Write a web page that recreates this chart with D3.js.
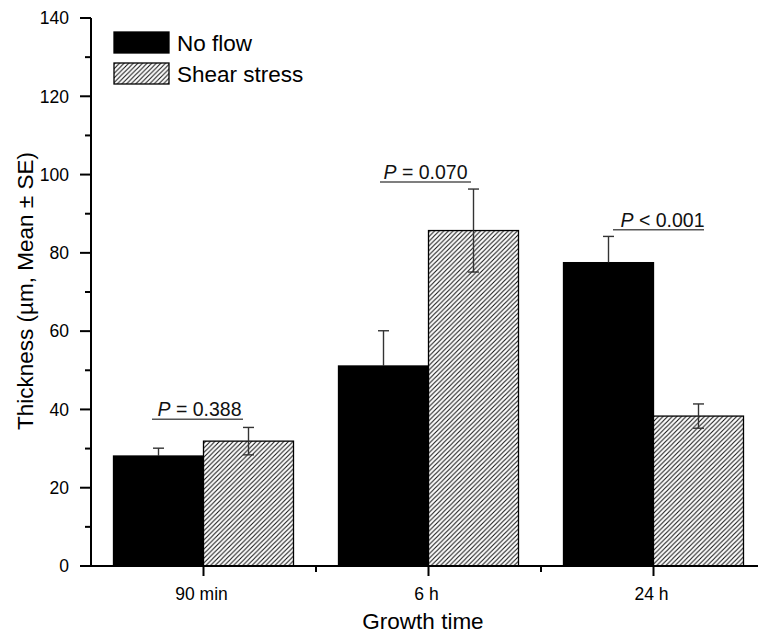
<!DOCTYPE html>
<html>
<head>
<meta charset="utf-8">
<script src="https://cdn.jsdelivr.net/npm/d3@7"></script>
<style>
  body { margin: 0; background: #fff; }
  svg { font-family: "Liberation Sans", Arial, sans-serif; display: block; }
</style>
</head>
<body>
<div id="my_dataviz"></div>
<script>
// data
var categories = ["90 min", "6 h", "24 h"];
var seriesNames = ["No flow", "Shear stress"];
var noFlowMean = [28.1, 51.1, 77.5];
var noFlowSE = [2.0, 9.0, 6.7];
var shearMean = [31.9, 85.7, 38.3];
var shearSE = [3.5, 10.6, 3.1];
var pSigns = ["= 0.388", "= 0.070", "< 0.001"];
var pLevel = [37.5, 98.1, 85.9];
var yMajorTicks = [0, 20, 40, 60, 80, 100, 120, 140];
var yMinorTicks = [10, 30, 50, 70, 90, 110, 130];

// set the dimensions and margins of the graph
var margin = {top: 18, right: 0, bottom: 69, left: 91},
    width = 758 - margin.left - margin.right,
    height = 635 - margin.top - margin.bottom;

var svg = d3.select("#my_dataviz")
  .append("svg")
    .attr("width", 758)
    .attr("height", 635)
  .append("g")
    .attr("transform", "translate(" + margin.left + "," + margin.top + ")");

// hatch pattern for shear stress bars
var defs = d3.select("svg").append("defs");
defs.append("pattern")
    .attr("id", "hatch")
    .attr("patternUnits", "userSpaceOnUse")
    .attr("width", 4.6)
    .attr("height", 4.6)
  .call(function(p) {
    p.append("rect").attr("width", 4.6).attr("height", 4.6).attr("fill", "#fff");
    p.append("path")
      .attr("d", "M0,4.6 L4.6,0 M-1,1 L1,-1 M3.6,5.6 L5.6,3.6")
      .attr("stroke", "#111")
      .attr("stroke-width", 1.05);
  });

// scales
var x0 = d3.scaleBand()
    .domain(categories)
    .range([0, 675]);
var bw = x0.bandwidth();
var x1 = d3.scaleBand()
    .domain(seriesNames)
    .range([bw * 0.1, bw * 0.9]);
var y = d3.scaleLinear()
    .domain([0, 140])
    .range([height, 0]);

// build rows
var rows = [];
categories.forEach(function(c, i) {
  rows.push({cat: c, series: seriesNames[0], mean: noFlowMean[i], se: noFlowSE[i]});
  rows.push({cat: c, series: seriesNames[1], mean: shearMean[i], se: shearSE[i]});
});

function fillFor(s) { return s === seriesNames[0] ? "#000" : "url(#hatch)"; }

// bars
svg.append("g")
  .selectAll("rect")
  .data(rows)
  .enter().append("rect")
    .attr("x", function(d) { return x0(d.cat) + x1(d.series); })
    .attr("y", function(d) { return y(d.mean); })
    .attr("width", x1.bandwidth())
    .attr("height", function(d) { return y(0) - y(d.mean); })
    .attr("fill", function(d) { return fillFor(d.series); })
    .attr("stroke", "#000")
    .attr("stroke-width", 1.3);

// error bars
var err = svg.append("g").selectAll("g")
  .data(rows)
  .enter().append("g")
    .attr("transform", function(d) {
      return "translate(" + (x0(d.cat) + x1(d.series) + x1.bandwidth() / 2) + ",0)";
    });
err.append("line")
    .attr("y1", function(d) { return y(d.mean); })
    .attr("y2", function(d) { return y(d.mean + d.se); })
    .attr("stroke", "#333").attr("stroke-width", 1.4);
err.append("line")
    .attr("y1", function(d) { return y(d.mean); })
    .attr("y2", function(d) { return y(d.mean - d.se); })
    .attr("stroke", function(d) { return d.series === seriesNames[0] ? "#000" : "#333"; })
    .attr("stroke-width", 1.4);
err.append("line")
    .attr("x1", -5.5).attr("x2", 5.5)
    .attr("y1", function(d) { return y(d.mean + d.se); })
    .attr("y2", function(d) { return y(d.mean + d.se); })
    .attr("stroke", "#333").attr("stroke-width", 1.4);
err.append("line")
    .attr("x1", -5.5).attr("x2", 5.5)
    .attr("y1", function(d) { return y(d.mean - d.se); })
    .attr("y2", function(d) { return y(d.mean - d.se); })
    .attr("stroke", function(d) { return d.series === seriesNames[0] ? "#000" : "#333"; })
    .attr("stroke-width", 1.4);

// P value annotations
var lineShift = [-6, -3, 5];
var textShift = [-4, -3, 9];
var ann = svg.append("g").selectAll("g")
  .data(categories)
  .enter().append("g")
    .attr("transform", function(d) { return "translate(" + (x0(d) + bw / 2) + ",0)"; });
ann.append("line")
    .attr("x1", function(d, i) { return lineShift[i] - 45.5; })
    .attr("x2", function(d, i) { return lineShift[i] + 45.5; })
    .attr("y1", function(d, i) { return y(pLevel[i]); })
    .attr("y2", function(d, i) { return y(pLevel[i]); })
    .attr("stroke", "#555").attr("stroke-width", 1.5);
var pt = ann.append("text")
    .attr("x", function(d, i) { return textShift[i]; })
    .attr("y", function(d, i) { return y(pLevel[i]) - 3; })
    .attr("text-anchor", "middle")
    .attr("font-size", 19.5)
    .attr("fill", "#111");
pt.append("tspan").attr("font-style", "italic").text("P");
pt.append("tspan").text(function(d, i) { return " " + pSigns[i]; });

// Y axis
var yAxis = svg.append("g");
yAxis.append("line")
    .attr("y1", y(140)).attr("y2", y(0))
    .attr("stroke", "#000").attr("stroke-width", 2);
yAxis.selectAll(".major").data(yMajorTicks).enter().append("line")
    .attr("x1", -11).attr("x2", 0)
    .attr("y1", function(d) { return y(d); }).attr("y2", function(d) { return y(d); })
    .attr("stroke", "#000").attr("stroke-width", 2);
yAxis.selectAll(".minor").data(yMinorTicks).enter().append("line")
    .attr("x1", -6).attr("x2", 0)
    .attr("y1", function(d) { return y(d); }).attr("y2", function(d) { return y(d); })
    .attr("stroke", "#000").attr("stroke-width", 2);
yAxis.selectAll("text").data(yMajorTicks).enter().append("text")
    .attr("x", -22)
    .attr("y", function(d) { return y(d); })
    .attr("dy", "0.36em")
    .attr("text-anchor", "end")
    .attr("font-size", 17.5)
    .text(function(d) { return d; });

// X axis
var xAxis = svg.append("g").attr("transform", "translate(0," + height + ")");
xAxis.append("line")
    .attr("x1", 0).attr("x2", 675)
    .attr("stroke", "#000").attr("stroke-width", 2);
xAxis.selectAll(".major").data(categories).enter().append("line")
    .attr("x1", function(d) { return x0(d) + bw / 2; })
    .attr("x2", function(d) { return x0(d) + bw / 2; })
    .attr("y1", 0).attr("y2", 10)
    .attr("stroke", "#000").attr("stroke-width", 2);
xAxis.selectAll(".minor").data(categories.slice(1)).enter().append("line")
    .attr("x1", function(d) { return x0(d); })
    .attr("x2", function(d) { return x0(d); })
    .attr("y1", 0).attr("y2", 6)
    .attr("stroke", "#000").attr("stroke-width", 2);
xAxis.selectAll("text").data(categories).enter().append("text")
    .attr("x", function(d) { return x0(d) + bw / 2 - 2; })
    .attr("y", 34)
    .attr("text-anchor", "middle")
    .attr("font-size", 17.5)
    .text(function(d) { return d; });

// axis titles
svg.append("text")
    .attr("x", 332)
    .attr("y", 611)
    .attr("text-anchor", "middle")
    .attr("font-size", 22.5)
    .text("Growth time");
svg.append("text")
    .attr("transform", "translate(" + (33 - margin.left) + "," + (291 - margin.top) + ") rotate(-90)")
    .attr("text-anchor", "middle")
    .attr("font-size", 22.5)
    .text("Thickness (µm, Mean ± SE)");

// legend
var legend = svg.append("g").attr("transform", "translate(23,14)");
seriesNames.forEach(function(s, i) {
  legend.append("rect")
      .attr("x", 0).attr("y", i * 31)
      .attr("width", 55).attr("height", 21)
      .attr("fill", fillFor(s))
      .attr("stroke", "#000").attr("stroke-width", 1.3);
  legend.append("text")
      .attr("x", 63).attr("y", i * 31 + 19)
      .attr("font-size", 22.5)
      .text(s);
});
</script>
</body>
</html>
